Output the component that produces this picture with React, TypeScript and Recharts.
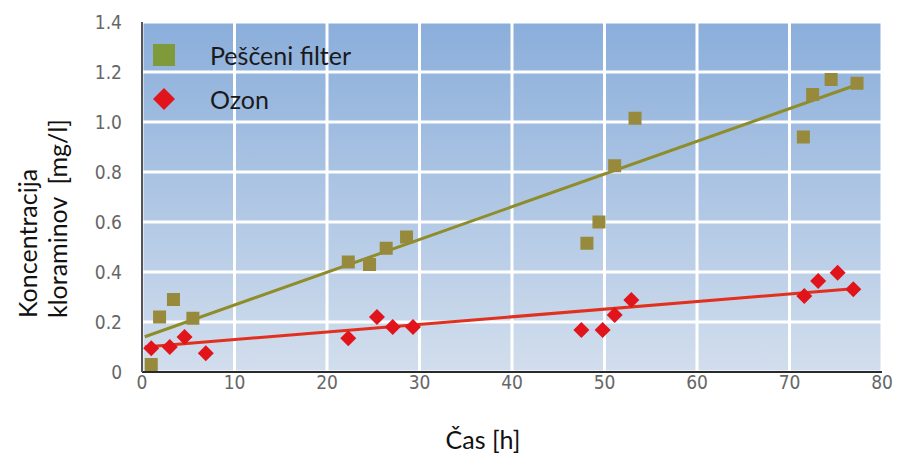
import {
  ComposedChart,
  Scatter,
  Line,
  XAxis,
  YAxis,
  CartesianGrid,
  Legend,
  Label,
} from "recharts";

const xTicks = [0, 10, 20, 30, 40, 50, 60, 70, 80];
const yTicks = [0, 0.2, 0.4, 0.6, 0.8, 1.0, 1.2, 1.4];

const sandHours = [1.0, 1.9, 3.4, 5.5, 22.3, 24.6, 26.4, 28.6, 48.1, 49.4, 51.1, 53.3, 71.5, 72.5, 74.5, 77.3];
const sandValues = [0.03, 0.22, 0.29, 0.215, 0.44, 0.43, 0.495, 0.54, 0.515, 0.6, 0.825, 1.015, 0.94, 1.11, 1.17, 1.155];

const ozoneHours = [1.0, 3.0, 4.6, 6.9, 22.3, 25.4, 27.1, 29.3, 47.5, 49.8, 51.1, 52.9, 71.6, 73.1, 75.2, 76.9];
const ozoneValues = [0.095, 0.1, 0.14, 0.075, 0.135, 0.22, 0.18, 0.18, 0.168, 0.168, 0.228, 0.288, 0.304, 0.364, 0.397, 0.331];

const sandTrend = [
  { x: 0.3, y: 0.141 },
  { x: 76.9, y: 1.144 },
];
const ozoneTrend = [
  { x: 0.3, y: 0.1 },
  { x: 76.2, y: 0.331 },
];

const sandData = sandHours.map((x, i) => ({ x, y: sandValues[i] }));
const ozoneData = ozoneHours.map((x, i) => ({ x, y: ozoneValues[i] }));

const SAND = "#988a3c";
const SAND_LEGEND = "#7f9a3a";
const SAND_LINE = "#8f8c2a";
const OZONE = "#e0141a";
const OZONE_LINE = "#e2301e";
const TICK_FONT = "'DejaVu Sans Condensed', 'DejaVu Sans', sans-serif";
const LABEL_FONT = "Lato, 'Open Sans', sans-serif";

const SquareMark = (p: any) => (
  <rect x={p.cx - 6.5} y={p.cy - 6.5} width={13} height={13} fill={SAND} />
);

const DiamondMark = (p: any) => (
  <path
    d={`M${p.cx},${p.cy - 8} L${p.cx + 8},${p.cy} L${p.cx},${p.cy + 8} L${p.cx - 8},${p.cy} Z`}
    fill={OZONE}
  />
);

function LegendBox() {
  return (
    <div style={{ fontFamily: LABEL_FONT, fontSize: 25, color: "#1a1a1a", lineHeight: 1 }}>
      <div style={{ display: "flex", alignItems: "center", height: 44 }}>
        <svg width={62} height={24}>
          <rect x={5} y={1} width={22} height={22} fill={SAND_LEGEND} />
        </svg>
        <span>Peščeni filter</span>
      </div>
      <div style={{ display: "flex", alignItems: "center", height: 44 }}>
        <svg width={62} height={24}>
          <path d="M16,1 L27,12 L16,23 L5,12 Z" fill={OZONE} />
        </svg>
        <span>Ozon</span>
      </div>
    </div>
  );
}

const YLabel = () => (
  <g fontFamily={LABEL_FONT} fontSize={25} fill="#111">
    <text x={27} y={318} transform="rotate(-90 27 318)" textAnchor="start" dominantBaseline="central">
      Koncentracija
    </text>
    <text
      x={57}
      y={318}
      transform="rotate(-90 57 318)"
      textAnchor="start"
      dominantBaseline="central"
      style={{ whiteSpace: "pre" }}
    >
      {"kloraminov  [mg/l]"}
    </text>
  </g>
);

const XLabel = () => (
  <text x={483} y={439} textAnchor="middle" dominantBaseline="central" fontFamily={LABEL_FONT} fontSize={25} fill="#111">
    Čas [h]
  </text>
);

export default function App() {
  return (
    <div style={{ position: "absolute", left: 0, top: 0, width: 900, height: 459, background: "#fff" }}>
      <ComposedChart width={900} height={459} margin={{ top: 22, right: 18, bottom: 57, left: 82 }}>
        <defs>
          <linearGradient id="plotBg" x1="0" y1="0" x2="0" y2="1">
            <stop offset="0%" stopColor="#8aaedb" />
            <stop offset="100%" stopColor="#d2deed" />
          </linearGradient>
        </defs>
        <CartesianGrid stroke="#ffffff" strokeWidth={3} fill="url(#plotBg)" fillOpacity={1} />
        <XAxis
          type="number"
          dataKey="x"
          domain={[0, 80]}
          ticks={xTicks}
          height={30}
          tickLine={false}
          tickSize={2}
          axisLine={{ stroke: "#2a2a2a", strokeWidth: 2 }}
          tick={{ fill: "#666", fontSize: 19, fontFamily: TICK_FONT }}
        >
          <Label content={XLabel} />
        </XAxis>
        <YAxis
          type="number"
          dataKey="y"
          domain={[0, 1.4]}
          ticks={yTicks}
          width={60}
          allowDataOverflow
          tickLine={false}
          tickSize={0}
          tickMargin={20}
          tickFormatter={(v: number) => (v === 0 ? "0" : v.toFixed(1))}
          axisLine={{ stroke: "#555", strokeWidth: 2 }}
          tick={{ fill: "#666", fontSize: 19, fontFamily: TICK_FONT }}
        >
          <Label content={YLabel} />
        </YAxis>
        <Legend
          layout="vertical"
          align="center"
          verticalAlign="middle"
          wrapperStyle={{ left: 148, top: 33, width: 280 }}
          content={() => <LegendBox />}
        />
        <Line
          data={sandTrend}
          dataKey="y"
          stroke={SAND_LINE}
          strokeWidth={3}
          dot={false}
          activeDot={false}
          legendType="none"
          isAnimationActive={false}
        />
        <Line
          data={ozoneTrend}
          dataKey="y"
          stroke={OZONE_LINE}
          strokeWidth={3}
          dot={false}
          activeDot={false}
          legendType="none"
          isAnimationActive={false}
        />
        <Scatter data={sandData} dataKey="y" name="Peščeni filter" shape={SquareMark} isAnimationActive={false} />
        <Scatter data={ozoneData} dataKey="y" name="Ozon" shape={DiamondMark} isAnimationActive={false} />
      </ComposedChart>
    </div>
  );
}
